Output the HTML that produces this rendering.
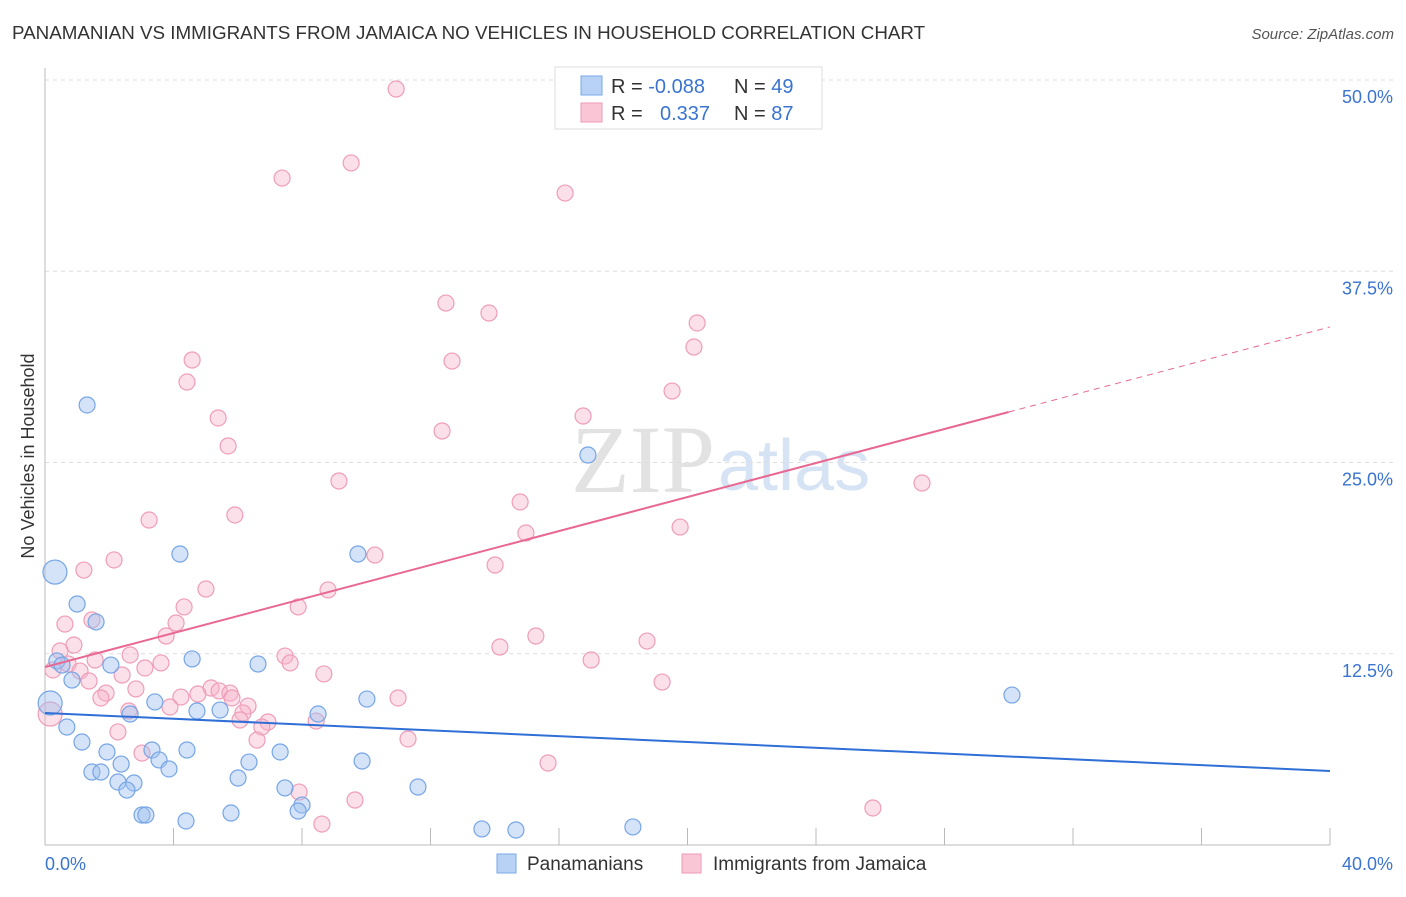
<!DOCTYPE html>
<html><head><meta charset="utf-8"><style>
body{margin:0;background:#fff;font-family:"Liberation Sans",sans-serif;}
svg text{font-family:"Liberation Sans",sans-serif;}
</style></head><body>
<svg id="chart" width="1406" height="892" xmlns="http://www.w3.org/2000/svg">
<text x="12" y="39" font-size="18.8" fill="#333">PANAMANIAN VS IMMIGRANTS FROM JAMAICA NO VEHICLES IN HOUSEHOLD CORRELATION CHART</text>
<text x="1394" y="39" font-size="15" fill="#555" text-anchor="end" font-style="italic">Source: ZipAtlas.com</text>
<text x="715" y="492" font-size="96" fill="#e2e2e2" text-anchor="end" style="font-family:'Liberation Serif',serif">ZIP</text>
<text x="718" y="490" font-size="72" fill="#d6e3f4">atlas</text>
<g id="grid"></g>
<g id="axes"></g>
<g id="pts"></g>
<g id="trends"></g>
<text x="34" y="456" font-size="18" fill="#333" text-anchor="middle" transform="rotate(-90 34 456)">No Vehicles in Household</text>
<g>
<rect x="555" y="67" width="267" height="62" fill="#fff" stroke="#ddd"/>
<rect x="581" y="76" width="21" height="19" fill="#b8d2f6" stroke="#7aa8e8"/>
<rect x="581" y="103" width="21" height="19" fill="#f9c6d6" stroke="#ee9ab5"/>
<text x="611" y="93" font-size="20" fill="#333">R = <tspan fill="#3a74d0">-0.088</tspan></text>
<text x="734" y="93" font-size="20" fill="#333">N = <tspan fill="#3a74d0">49</tspan></text>
<text x="611" y="120" font-size="20" fill="#333">R = <tspan fill="#3a74d0" x="660">0.337</tspan></text>
<text x="734" y="120" font-size="20" fill="#333">N = <tspan fill="#3a74d0">87</tspan></text>
</g>
<g>
<rect x="497" y="854" width="19" height="19" fill="#b8d2f6" stroke="#7aa8e8"/>
<text x="527" y="870" font-size="19" fill="#333">Panamanians</text>
<rect x="682" y="854" width="19" height="19" fill="#f9c6d6" stroke="#ee9ab5"/>
<text x="713" y="870" font-size="19" fill="#333">Immigrants from Jamaica</text>
</g>
</svg>
<script>
const yTicks=[12.5,25,37.5,50];
const xTickLabels=["0.0%","40.0%"];
const blueX=[1.31,0.31,1.00,1.59,0.37,0.53,0.84,2.05,4.58,6.63,4.20,9.74,16.90,30.10,0.16,0.68,1.15,1.93,2.65,3.42,4.73,5.45,8.50,10.02,3.33,3.55,4.42,2.37,3.86,6.35,7.32,9.87,1.46,1.74,2.27,2.77,2.55,6.01,7.47,11.61,8.00,7.88,3.02,3.14,4.39,5.79,13.60,14.66,18.30];
const blueY=[28.76,17.84,15.75,14.58,12.03,11.76,10.78,11.76,12.16,11.83,19.02,19.02,25.49,9.80,9.28,7.71,6.73,6.08,8.56,9.35,8.76,8.82,8.56,9.54,6.21,5.56,6.21,5.29,4.97,5.42,6.08,5.49,4.77,4.77,4.12,4.05,3.59,4.38,3.73,3.79,2.61,2.22,1.96,1.96,1.57,2.09,1.05,0.98,1.18];
const pinkX=[10.93,9.53,7.38,16.19,12.48,13.82,20.30,20.20,12.67,4.58,4.42,19.52,5.39,16.75,12.36,5.70,9.15,27.30,14.79,5.91,3.24,14.97,19.77,10.27,2.15,1.21,14.01,5.01,8.81,4.33,7.88,1.46,0.62,4.08,3.77,0.90,15.28,18.74,0.47,2.65,7.47,14.16,1.56,3.61,7.63,17.00,0.72,0.25,3.11,1.09,2.40,8.68,19.21,1.37,2.83,1.90,5.17,5.42,5.76,4.76,4.23,5.82,10.99,3.89,6.32,1.74,2.61,6.16,6.07,6.94,8.44,6.75,0.16,2.27,6.60,11.30,3.02,15.66,7.91,9.65,25.77,8.62];
const pinkY=[49.41,44.58,43.59,42.61,35.42,34.77,34.12,32.55,31.63,31.70,30.26,29.67,27.91,28.04,27.06,26.08,23.79,23.66,22.42,21.57,21.24,20.39,20.78,18.95,18.63,17.97,18.30,16.73,16.67,15.56,15.56,14.71,14.44,14.51,13.66,13.07,13.66,13.33,12.68,12.42,12.35,12.94,12.09,11.90,11.90,12.09,11.83,11.44,11.57,11.37,11.11,11.18,10.65,10.72,10.20,9.93,10.26,10.07,9.93,9.87,9.67,9.61,9.61,9.02,9.08,9.61,8.76,8.63,8.17,8.04,8.10,7.71,8.56,7.39,6.86,6.93,6.01,5.36,3.46,2.94,2.42,1.37];
const blueTrend=[8.63,4.84];
const pinkTrend=[11.63,28.3,33.86];
const NS='http://www.w3.org/2000/svg';
const sx=v=>45+v*32.125, sy=v=>845-v*15.3;
function mk(t,a,p){const e=document.createElementNS(NS,t);for(const k in a)e.setAttribute(k,a[k]);document.getElementById(p).appendChild(e);return e;}
yTicks.forEach(t=>{
 const l=mk('line',{x1:45,x2:1394,y1:sy(t),y2:sy(t),stroke:'#ddd','stroke-dasharray':'4,4'},'grid');
 
 
 const tx=mk('text',{x:1393,y:sy(t)+23,'font-size':18,fill:'#3a74d0','text-anchor':'end'},'grid');
 tx.textContent=t.toFixed(1)+'%';
 
 
});
const ax=mk('line',{x1:45,x2:45,y1:68,y2:845,stroke:'#bbb'},'axes');


const bx=mk('line',{x1:45,x2:1330,y1:845,y2:845,stroke:'#bbb'},'axes');


for(let i=0;i<=10;i++){const t=mk('line',{x1:sx(i*4),x2:sx(i*4),y1:828,y2:845,stroke:'#bbb'},'axes');
 
 }
[[0,'start',45],[40,'end',1393]].forEach((d,i)=>{const t=mk('text',{x:d[2],y:870,'font-size':18,fill:'#3a74d0','text-anchor':d[1]},'axes');t.textContent=xTickLabels[i];
 
 });
function pts(X,Y,fill,stroke,name,big){X.forEach((x,i)=>{const r=(big.includes(i))?12:8;
 const c=mk('circle',{cx:sx(x),cy:sy(Y[i]),r:r,fill:fill,stroke:stroke,'stroke-width':1.2},'pts');
 
 });}
pts(pinkX,pinkY,'rgba(246,178,202,0.42)','#ef9db8','jamaica-point',[72]);
pts(blueX,blueY,'rgba(160,194,240,0.45)','#76a5e6','panamanian-point',[1,14]);
const bl=mk('line',{x1:sx(0),y1:sy(blueTrend[0]),x2:sx(40),y2:sy(blueTrend[1]),stroke:'#2f6fd6','stroke-width':2},'trends');


const pl=mk('line',{x1:sx(0),y1:sy(pinkTrend[0]),x2:sx(30),y2:sy(pinkTrend[1]),stroke:'#e86892','stroke-width':2},'trends');


const pd=mk('line',{x1:sx(30),y1:sy(pinkTrend[1]),x2:sx(40),y2:sy(pinkTrend[2]),stroke:'#e86892','stroke-width':1,'stroke-dasharray':'6,5'},'trends');


</script>
</body></html>
